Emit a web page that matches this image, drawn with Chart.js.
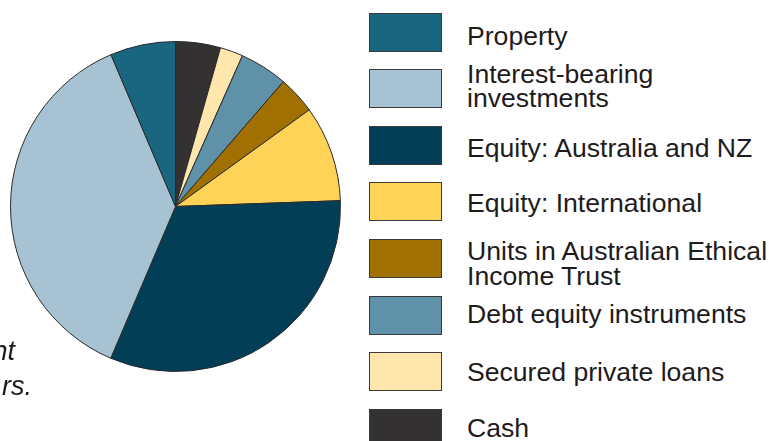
<!DOCTYPE html>
<html>
<head>
<meta charset="utf-8">
<script src="https://cdn.jsdelivr.net/npm/chart.js@4"></script>
<style>
  html, body { margin: 0; padding: 0; background: #ffffff; }
  body { width: 769px; height: 441px; position: relative; overflow: hidden; font-family: "Liberation Sans", Arial, sans-serif; color: #1e1b1c; }
  #pieWrap { position: absolute; left: 10px; top: 41px; width: 331px; height: 331px; }
  .box { position: absolute; left: 369px; width: 71px; height: 37px; border: 1px solid #3a3a3a; }
  .lbl { position: absolute; left: 467px; font-size: 26.6px; line-height: 26px; white-space: nowrap; }
  .note { position: absolute; font-size: 27px; line-height: 27px; font-style: italic; white-space: nowrap; text-align: right; width: 300px; }
</style>
</head>
<body>
<div id="pieWrap"><canvas id="c"></canvas></div>
<div id="legend"></div>
<div class="note" style="left:-285px; top:338px;">nt</div>
<div class="note" style="left:-268px; top:373px;">rs.</div>
<script>
// Legend order (top to bottom)
const categories = [
  "Property",
  "Interest-bearing investments",
  "Equity: Australia and NZ",
  "Equity: International",
  "Units in Australian Ethical Income Trust",
  "Debt equity instruments",
  "Secured private loans",
  "Cash"
];
const legendLines = [
  ["Property"],
  ["Interest-bearing", "investments"],
  ["Equity: Australia and NZ"],
  ["Equity: International"],
  ["Units in Australian Ethical", "Income Trust"],
  ["Debt equity instruments"],
  ["Secured private loans"],
  ["Cash"]
];
// Share of total (per cent), legend order
const shares = [6.4, 37.2, 32.0, 9.4, 3.7, 4.7, 2.25, 4.4];
const colours = ["#1a657f", "#a7c3d3", "#033e57", "#fed358", "#a07003", "#5f91a8", "#fee6ad", "#333132"];

// The pie draws clockwise from 12 o'clock starting with the last legend item
const order = categories.map((_, i) => i).reverse();

new Chart(document.getElementById('c'), {
  type: 'pie',
  data: {
    labels: order.map(i => categories[i]),
    datasets: [{
      data: order.map(i => shares[i]),
      backgroundColor: order.map(i => colours[i]),
      borderColor: '#2a2a2a',
      borderWidth: 1
    }]
  },
  options: {
    responsive: true,
    maintainAspectRatio: false,
    animation: false,
    layout: { padding: 0 },
    plugins: { legend: { display: false }, tooltip: { enabled: false } }
  }
});

// Legend (HTML), built from the arrays
const legend = document.getElementById('legend');
const boxTops = [12.7, 69, 125.7, 182.3, 239, 295.7, 352.3, 408.7];
const baselines = [[45], [83.3, 107.3], [156.7], [212.3], [260.3, 285], [323.3], [381], [436.7]];
categories.forEach((name, i) => {
  const b = document.createElement('div');
  b.className = 'box';
  b.style.top = Math.round(boxTops[i]) + 'px';
  b.style.background = colours[i];
  legend.appendChild(b);
  legendLines[i].forEach((line, j) => {
    const t = document.createElement('div');
    t.className = 'lbl';
    t.textContent = line;
    t.style.top = (baselines[i][j] - 22.2) + 'px';
    legend.appendChild(t);
  });
});
</script>
</body>
</html>
